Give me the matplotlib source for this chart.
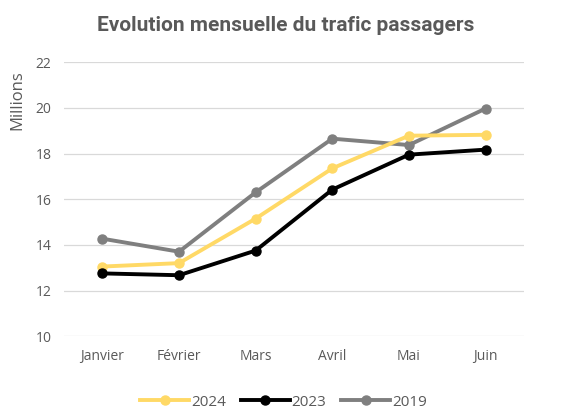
import matplotlib
matplotlib.use("Agg")
import matplotlib.pyplot as plt

# --- data ---
months = ["Janvier", "Février", "Mars", "Avril", "Mai", "Juin"]
trafic_2024 = [13.05, 13.2, 15.15, 17.35, 18.78, 18.82]
trafic_2023 = [12.75, 12.67, 13.75, 16.42, 17.95, 18.17]
trafic_2019 = [14.27, 13.7, 16.3, 18.65, 18.37, 19.97]

yticks = [10, 12, 14, 16, 18, 20, 22]

plt.rcParams['font.family'] = ['Open Sans', 'DejaVu Sans']
text_grey = "#595959"

fig = plt.figure(figsize=(5.67, 4.09), dpi=100)
ax = fig.add_axes([0.113, 0.178, 0.811, 0.670])

x = range(len(months))
ax.plot(x, trafic_2024, color="#FFD966", lw=2.8, marker="o", ms=6.5, label="2024", zorder=3)
ax.plot(x, trafic_2023, color="#000000", lw=2.8, marker="o", ms=6.5, label="2023", zorder=4)
ax.plot(x, trafic_2019, color="#7F7F7F", lw=2.8, marker="o", ms=6.5, label="2019", zorder=2)

ax.set_xlim(-0.5, len(months) - 0.5)
ax.set_ylim(10, 22)
ax.set_yticks(yticks)
ax.set_xticks(list(x))
ax.set_xticklabels(months)
ax.tick_params(length=0, labelsize=10, colors=text_grey)
ax.tick_params(axis='x', pad=9)
ax.tick_params(axis='y', pad=9)

ax.grid(axis='y', color="#D9D9D9", lw=0.9)
ax.set_axisbelow(True)
for s in ax.spines.values():
    s.set_visible(False)

ax.set_ylabel("Millions", fontsize=12, color=text_grey)
ax.yaxis.set_label_coords(-0.085, 0.86)

fig.text(0.503, 0.937, "Evolution mensuelle du trafic passagers", ha="center", va="center",
         fontsize=15, fontweight="bold", color=text_grey, family=['Roboto', 'DejaVu Sans'])

leg = fig.legend(loc="center", bbox_to_anchor=(0.5, 0.017), ncol=3, frameon=False,
                 fontsize=11, handlelength=3.2, handletextpad=0.1, columnspacing=1.0,
                 labelcolor=text_grey)

fig.savefig("out.png", dpi=100)
